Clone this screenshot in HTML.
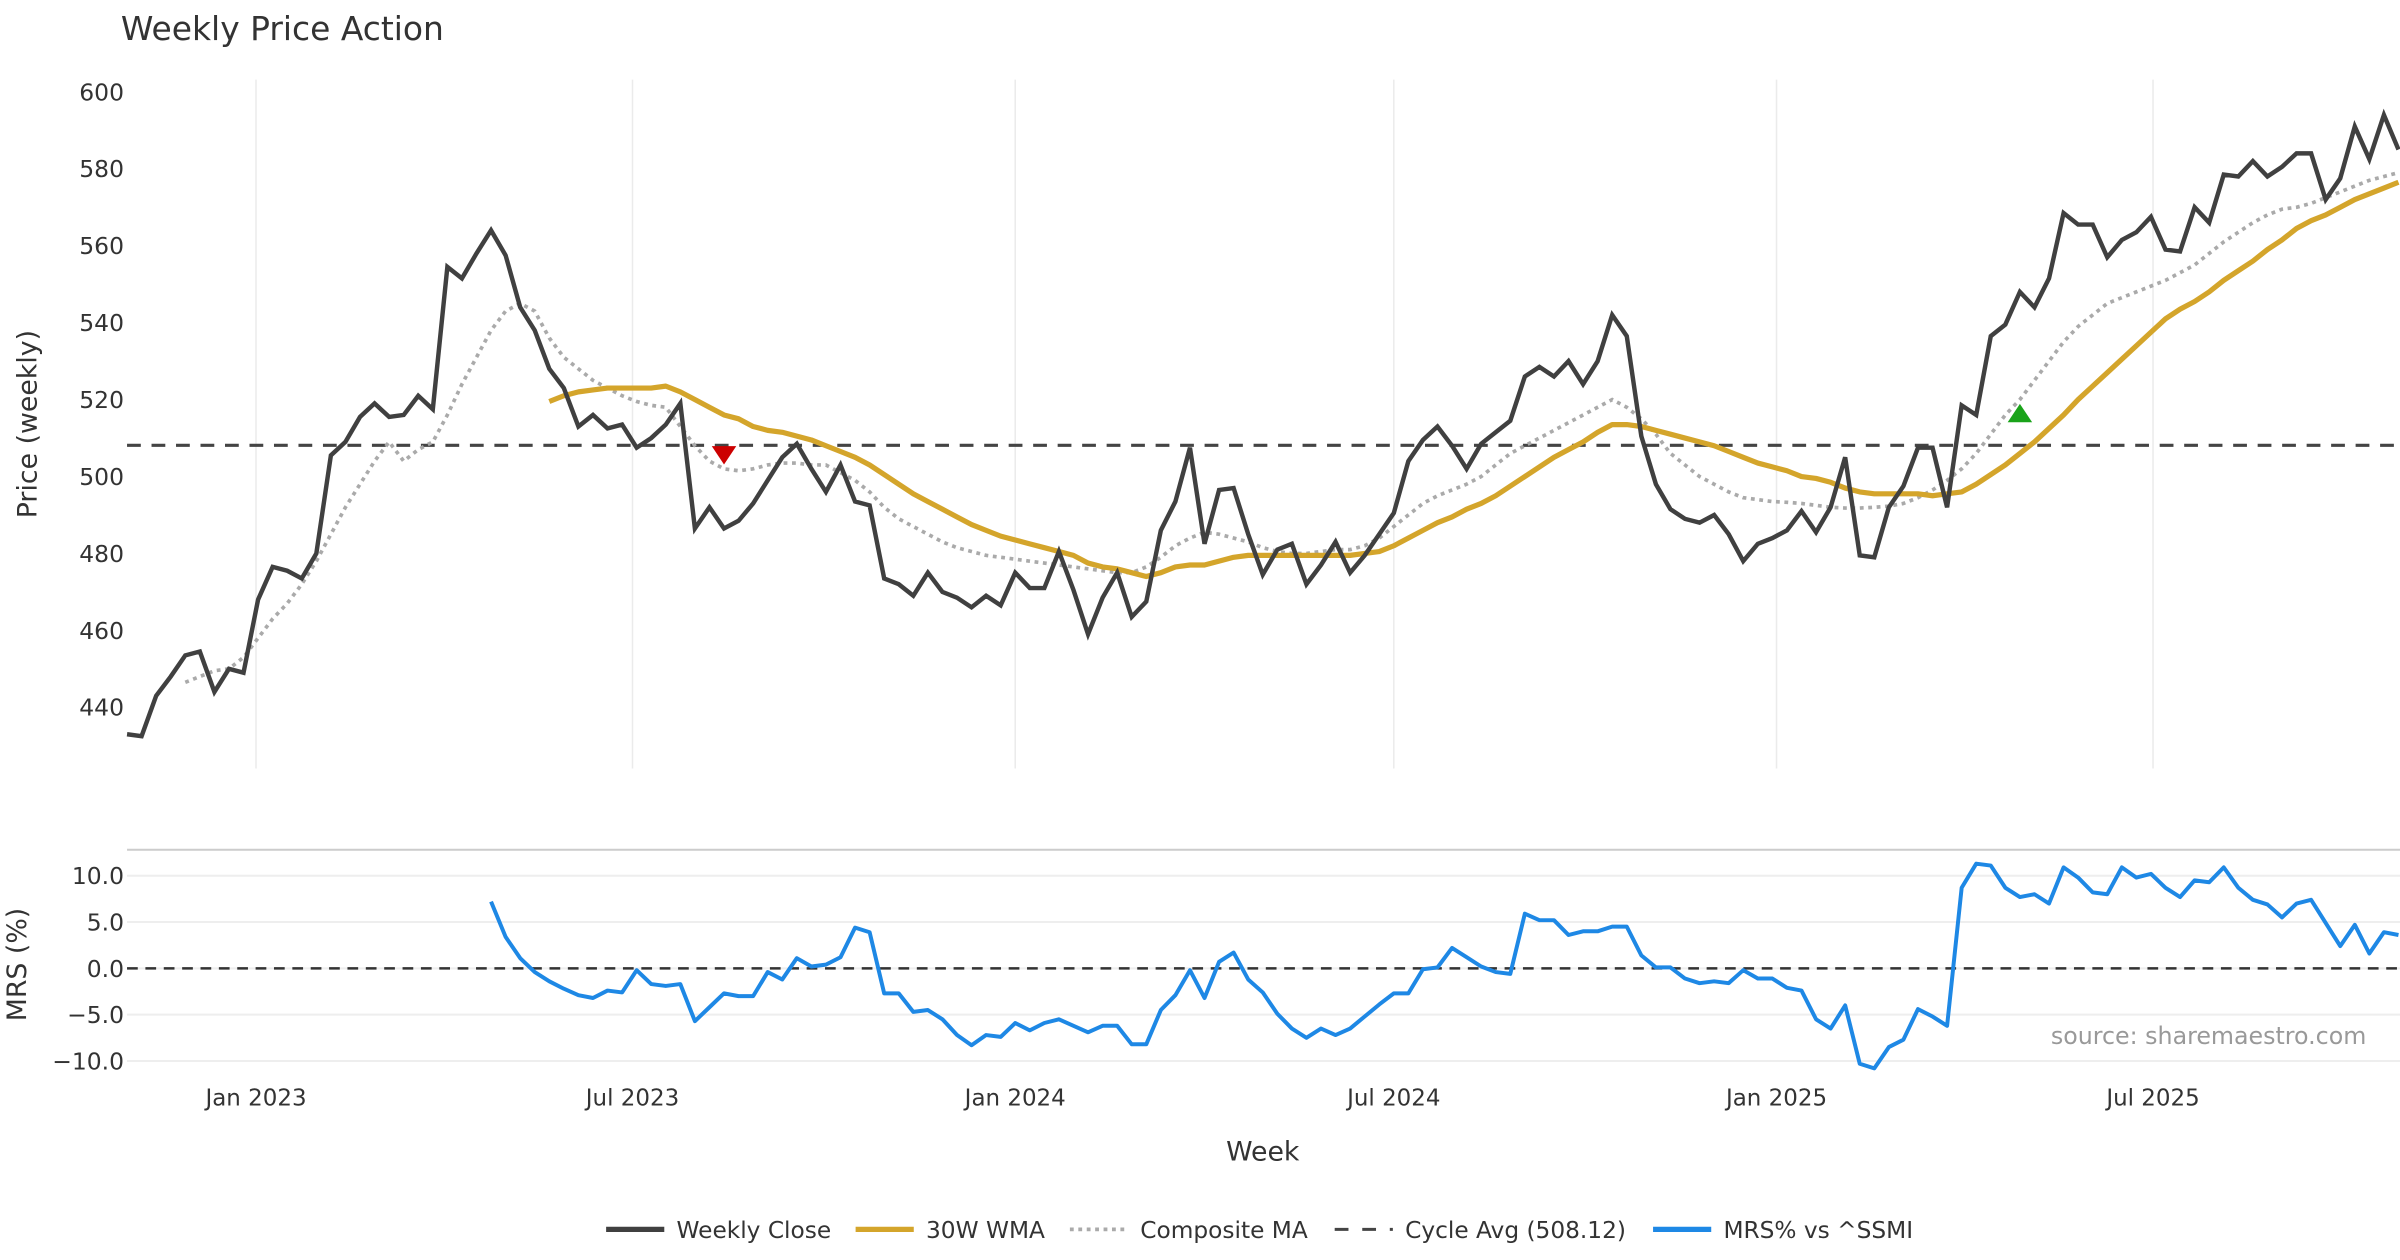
<!DOCTYPE html>
<html><head><meta charset="utf-8">
<style>
html,body{margin:0;padding:0;background:#fff;}
svg{display:block;font-family:"DejaVu Sans","Liberation Sans",sans-serif;}
</style></head>
<body>
<svg id="chart" width="2400" height="1260" viewBox="0 0 1568 823" preserveAspectRatio="none" xmlns="http://www.w3.org/2000/svg">
<text x="79" y="26" font-size="21.5" fill="#333">Weekly Price Action</text>
<g id="grid"></g>
<g id="series"></g>
<g id="axes"></g>
<text x="1546" y="682" font-size="15.5" fill="#999" text-anchor="end">source: sharemaestro.com</text>
<text transform="translate(24,277) rotate(-90)" font-size="17.5" fill="#333" text-anchor="middle">Price (weekly)</text>
<text transform="translate(17,630) rotate(-90)" font-size="17.5" fill="#333" text-anchor="middle">MRS (%)</text>
<text x="825" y="758" font-size="17.5" fill="#333" text-anchor="middle">Week</text>
<g id="legend">
  <g><line x1="396" y1="803" x2="434" y2="803" stroke="#404040" stroke-width="3.5"/><text x="442" y="808.5" font-size="15.2" fill="#333">Weekly Close</text></g>
  <g><line x1="559" y1="803" x2="597" y2="803" stroke="#d4a52b" stroke-width="3.5"/><text x="605" y="808.5" font-size="15.2" fill="#333">30W WMA</text></g>
  <g><line x1="699" y1="803" x2="737" y2="803" stroke="#aaa" stroke-width="2.5" stroke-dasharray="2.5 3"/><text x="745" y="808.5" font-size="15.2" fill="#333">Composite MA</text></g>
  <g><line x1="872" y1="803" x2="910" y2="803" stroke="#444" stroke-width="2" stroke-dasharray="9 9"/><text x="918" y="808.5" font-size="15.2" fill="#333">Cycle Avg (508.12)</text></g>
  <g><line x1="1080" y1="803" x2="1118" y2="803" stroke="#1e88e5" stroke-width="3.5"/><text x="1126" y="808.5" font-size="15.2" fill="#333">MRS% vs ^SSMI</text></g>
</g>
</svg>
<script>
const closeVals=[433,432.5,443,448,453.5,454.5,444,450,449,468,476.5,475.5,473.5,480,505.5,509,515.5,519,515.5,516,521,517.5,554.5,551.5,558,564,557.5,544,538,528,523,513,516,512.5,513.5,507.5,510,513.5,519,486.5,492,486.5,488.5,493,499,505,508.5,502,496,503,493.5,492.5,473.5,472,469,475,470,468.5,466,469,466.5,475,471,471,480.5,470.5,459,468.5,475,463.5,467.5,486,493.5,507.5,482.5,496.5,497,485,474.5,481,482.5,472,477,483,475,479.5,485,490.5,504,509.5,513,508,502,508.5,511.5,514.5,526,528.5,526,530,524,530,542,536.5,510.5,498,491.5,489,488,490,485,478,482.5,484,486,491,485.5,492,505,479.5,479,492,497.5,507.5,507.5,492,518.5,516,536.5,539.5,548,544,551.5,568.5,565.5,565.5,557,561.5,563.5,567.5,559,558.5,570,566,578.5,578,582,578,580.5,584,584,572,577.5,591,582.5,594,585];
const wmaVals=[519.5,521,522,522.5,523,523,523,523,523.5,522,520,518,516,515,513,512,511.5,510.5,509.5,508,506.5,505,503,500.5,498,495.5,493.5,491.5,489.5,487.5,486,484.5,483.5,482.5,481.5,480.5,479.5,477.5,476.5,476,475,474,475,476.5,477,477,478,479,479.5,479.5,479.5,479.5,479.5,479.5,479.5,479.5,480,480.5,482,484,486,488,489.5,491.5,493,495,497.5,500,502.5,505,507,509,511.5,513.5,513.5,513,512,511,510,509,508,506.5,505,503.5,502.5,501.5,500,499.5,498.5,497,496,495.5,495.5,495.5,495.5,495,495.5,496,498,500.5,503,506,509,512.5,516,520,523.5,527,530.5,534,537.5,541,543.5,545.5,548,551,553.5,556,559,561.5,564.5,566.5,568,570,572,573.5,575,576.5];
const compVals=[446.5,448,449.5,450,453,458,463,467,472,478,485,492,498,504,509,504,507,509,516,524,531,538,543,545,543,536,531,528,525,523,521,519.5,518.5,518,513,508,504,502,501.5,502,503,503.5,503.5,503,503,501,499,496,492,489,487,485,483,481.5,480.5,479.5,479,478.5,478,477.5,477,476.5,476,475.5,475,475,476.5,479,482,484,485.5,485,484,483,481.5,480.5,480,480,480.5,481,481,482,484,487,490,493,495,496.5,498,500,503,506,508,510,512,514,516,518,520,518,515,511,506,503,500,498,496,494.5,494,493.5,493.3,493,492.5,492,491.8,491.8,492,492.3,493,494.5,496.5,499,502,506,511,516,520,525,530,535,539,542,545,546.5,548,549.5,551,553,555,558,561,563.5,566,568,569.5,570,571,572.5,574,575.5,577,578,579];
const mrsVals=[7.2,3.4,1.1,-0.4,-1.4,-2.2,-2.9,-3.2,-2.4,-2.6,-0.2,-1.7,-1.9,-1.7,-5.7,-4.2,-2.7,-3.0,-3.0,-0.4,-1.2,1.1,0.2,0.4,1.2,4.4,3.9,-2.7,-2.7,-4.7,-4.5,-5.5,-7.2,-8.3,-7.2,-7.4,-5.9,-6.7,-5.9,-5.5,-6.2,-6.9,-6.2,-6.2,-8.2,-8.2,-4.5,-2.9,-0.2,-3.2,0.7,1.7,-1.2,-2.6,-4.9,-6.5,-7.5,-6.5,-7.2,-6.5,-5.2,-3.9,-2.7,-2.7,-0.1,0.1,2.2,1.2,0.2,-0.4,-0.6,5.9,5.2,5.2,3.6,4.0,4.0,4.5,4.5,1.4,0.1,0.1,-1.1,-1.6,-1.4,-1.6,-0.2,-1.1,-1.1,-2.1,-2.4,-5.5,-6.5,-4.0,-10.3,-10.8,-8.5,-7.7,-4.4,-5.2,-6.2,8.7,11.3,11.1,8.7,7.7,8.0,7.0,10.9,9.8,8.2,8.0,10.9,9.8,10.2,8.7,7.7,9.5,9.3,10.9,8.7,7.4,6.9,5.5,7.0,7.4,4.9,2.4,4.7,1.6,3.9,3.6];
const cycleAvg=508.12;
const priceTicks=[440,460,480,500,520,540,560,580,600];
const mrsTicks=[-10,-5,0,5,10];
const mrsTickLabels=["\u221210.0","\u22125.0","0.0","5.0","10.0"];
const dateTicks=["2023-01-01","2023-07-01","2024-01-01","2024-07-01","2025-01-01","2025-07-01"];
const dateTickLabels=["Jan 2023","Jul 2023","Jan 2024","Jul 2024","Jan 2025","Jul 2025"];
const sellIdx=[41], sellVals=[505.5];
const buyIdx=[130], buyVals=[516.5];

const NS="http://www.w3.org/2000/svg";
const N=closeVals.length;
const X0=83, X1=1567;
const startDate=new Date("2022-10-31T00:00:00Z");
function x(i){return X0+i*(X1-X0)/(N-1);}
function xDate(s){const d=(new Date(s+"T00:00:00Z")-startDate)/86400000/7;return x(d);}
function yP(v){return 60+(600-v)*(462-60)/160;}
function yM(v){return 632.5-v*6.05;}
function mk(tag,attrs,parent){const e=document.createElementNS(NS,tag);for(const k in attrs)e.setAttribute(k,attrs[k]);parent.appendChild(e);return e;}
const grid=document.getElementById('grid'),ser=document.getElementById('series'),axes=document.getElementById('axes');

dateTicks.forEach((d,k)=>{
  const xx=xDate(d);
  const gl=mk('line',{x1:xx,x2:xx,y1:52,y2:502,stroke:'#ebebeb','stroke-width':1},grid);
  
  
  const t=mk('text',{x:xx,y:722,'font-size':15,fill:'#333','text-anchor':'middle'},axes);
  t.textContent=dateTickLabels[k];
  
  
});
priceTicks.forEach(v=>{
  const t=mk('text',{x:81,y:yP(v)+5.5,'font-size':15.3,fill:'#333','text-anchor':'end'},axes);
  t.textContent=v;
  
  
});
const border=mk('line',{x1:83,x2:1568,y1:555,y2:555,stroke:'#cccccc','stroke-width':1.3},grid);


mrsTicks.forEach((v,k)=>{
  const gl=mk('line',{x1:83,x2:1568,y1:yM(v),y2:yM(v),stroke:'#eeeeee','stroke-width':1.3},grid);
  
  
  const t=mk('text',{x:81,y:yM(v)+5.5,'font-size':15.3,fill:'#333','text-anchor':'end'},axes);
  t.textContent=mrsTickLabels[k];
  
  
});
function path(vals,yf,offset){return vals.map((v,i)=>(i?'L':'M')+x(i+offset).toFixed(2)+','+yf(v).toFixed(2)).join('');}

const cy=mk('line',{x1:83,x2:1568,y1:yP(cycleAvg),y2:yP(cycleAvg),stroke:'#444','stroke-width':2,'stroke-dasharray':'9 7'},ser);


const comp=mk('path',{d:path(compVals,yP,N-compVals.length),fill:'none',stroke:'#aaaaaa','stroke-width':2.4,'stroke-dasharray':'2.5 3'},ser);


const wma=mk('path',{d:path(wmaVals,yP,N-wmaVals.length),fill:'none',stroke:'#d4a52b','stroke-width':3.4,'stroke-linejoin':'round'},ser);


const cl=mk('path',{d:path(closeVals,yP,0),fill:'none',stroke:'#404040','stroke-width':2.9,'stroke-linejoin':'miter'},ser);


sellIdx.forEach((i,k)=>{
  const cx=x(i),cyv=yP(sellVals[k]);
  const m=mk('path',{d:`M${cx-8},${cyv-6}L${cx+8},${cyv-6}L${cx},${cyv+6}Z`,fill:'#cc0000'},ser);
  
  
});
buyIdx.forEach((i,k)=>{
  const cx=x(i),cyv=yP(buyVals[k]);
  const m=mk('path',{d:`M${cx-8},${cyv+6}L${cx+8},${cyv+6}L${cx},${cyv-6}Z`,fill:'#1aa31a'},ser);
  
  
});
const zl=mk('line',{x1:83,x2:1568,y1:yM(0),y2:yM(0),stroke:'#333','stroke-width':1.6,'stroke-dasharray':'7 5'},ser);


const mrs=mk('path',{d:path(mrsVals,yM,N-mrsVals.length),fill:'none',stroke:'#1e88e5','stroke-width':2.6,'stroke-linejoin':'round'},ser);


</script>
</body></html>
